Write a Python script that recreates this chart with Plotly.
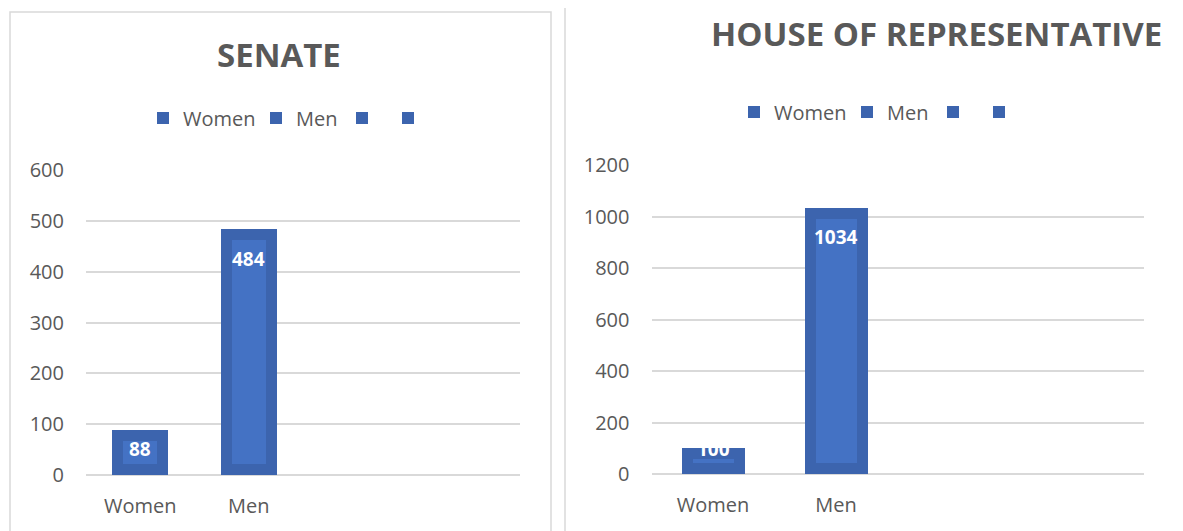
import plotly.graph_objects as go

# ---------------- data ----------------
categories = ["Women", "Men", "", ""]
legend_names = ["Women", "Men", " ", "  "]
senate_values = [88, 484, None, None]
house_values = [100, 1034, None, None]
senate_ticks = [0, 100, 200, 300, 400, 500, 600]
house_ticks = [0, 200, 400, 600, 800, 1000, 1200]

# ---------------- style ----------------
OFF = 8                      # page body margin of the viewer
W, H = 1183 - OFF, 531 - OFF  # figure size
OUTER = "#3C64AE"
INNER = "#4472C4"
GRID = "#D9D9D9"
TEXT = "#595959"
FONT = "Open Sans"
INSET_PX = 11
label_shift_senate = [-19, -30]
label_shift_house = [-1, -29]
legend_widths = [68, 41, 1, 1]


def fx(px):
    return (px - OFF) / W


def fy(py):
    return 1 - (py - OFF) / H


left_x = (fx(86), fx(520))
left_y = (fy(475), fy(170))
right_x = (fx(651.5), fx(1143.5))
right_y = (fy(474), fy(165))

fig = go.Figure()


def add_panel(values, ticks, xa, ya, legend, bar_w, inner_w, ydom):
    ymax = ticks[-1]
    px_per_unit = (ydom[1] - ydom[0]) * H / ymax
    inset = INSET_PX / px_per_unit
    xs = list(range(len(categories)))
    for i, (name, v) in enumerate(zip(legend_names, values)):
        fig.add_trace(go.Bar(
            x=[xs[i]], y=[v], name=name, width=bar_w,
            marker=dict(color=OUTER, line=dict(width=0)),
            xaxis=xa, yaxis=ya, legend=legend, legendwidth=legend_widths[i],
            hoverinfo="skip",
        ))
    for i, v in enumerate(values):
        if v is None:
            continue
        fig.add_trace(go.Bar(
            x=[xs[i]], y=[v - 2 * inset], base=[inset], width=inner_w,
            marker=dict(color=INNER, line=dict(width=0)),
            xaxis=xa, yaxis=ya, showlegend=False, hoverinfo="skip",
        ))


add_panel(senate_values, senate_ticks, "x", "y", "legend", 0.516, 0.313, left_y)
add_panel(house_values, house_ticks, "x2", "y2", "legend2", 0.52, 0.341, right_y)

annotations = []
for i, v in enumerate(senate_values):
    if v is None:
        continue
    annotations.append(dict(x=i, y=v, xref="x", yref="y", text=f"<b>{v}</b>",
                            showarrow=False, yshift=label_shift_senate[i], yanchor="middle",
                            font=dict(family=FONT, size=19, color="white")))
for i, v in enumerate(house_values):
    if v is None:
        continue
    annotations.append(dict(x=i, y=v, xref="x2", yref="y2", text=f"<b>{v}</b>",
                            showarrow=False, yshift=label_shift_house[i], yanchor="middle",
                            font=dict(family=FONT, size=19, color="white")))

annotations.append(dict(x=fx(279), y=fy(55), xref="paper", yref="paper",
                        text="<b>SENATE</b>", showarrow=False, xanchor="center", yanchor="middle",
                        font=dict(family=FONT, size=33, color=TEXT)))
annotations.append(dict(x=fx(936), y=fy(33), xref="paper", yref="paper",
                        text="<b>HOUSE OF REPRESENTATIVE</b>", showarrow=False,
                        xanchor="center", yanchor="middle",
                        font=dict(family=FONT, size=33, color=TEXT)))

shapes = [
    dict(type="rect", xref="paper", yref="paper", x0=fx(10), x1=fx(551),
         y0=-0.1, y1=fy(12), line=dict(color=GRID, width=1.5), layer="below"),
    dict(type="rect", xref="paper", yref="paper", x0=fx(565), x1=fx(1179),
         y0=-0.1, y1=fy(5), line=dict(color=GRID, width=1.5), layer="below"),
]

xaxis_common = dict(
    tickmode="array", tickvals=[0, 1, 2, 3], ticktext=categories, range=[-0.5, 3.5],
    showgrid=False, zeroline=False, showline=False, ticks="",
    tickfont=dict(family=FONT, size=20, color=TEXT), ticklabelstandoff=17,
    fixedrange=True, automargin=False,
)
yaxis_common = dict(
    tickmode="array", showgrid=True, gridcolor=GRID, gridwidth=1.5,
    zeroline=True, zerolinecolor=GRID, zerolinewidth=1.5, showline=False, ticks="",
    tickfont=dict(family=FONT, size=20, color=TEXT), ticklabelstandoff=21,
    fixedrange=True, automargin=False,
)

legend_common = dict(orientation="h", xanchor="left", yanchor="middle",
                     font=dict(family=FONT, size=20, color=TEXT), bgcolor="rgba(0,0,0,0)",
                     itemclick=False, itemdoubleclick=False)

fig.update_layout(
    width=W, height=H, margin=dict(l=0, r=0, t=0, b=0, pad=0, autoexpand=False),
    paper_bgcolor="white", plot_bgcolor="white",
    barmode="overlay", bargap=0,
    font=dict(family=FONT, color=TEXT),
    xaxis=dict(domain=list(left_x), anchor="y", **xaxis_common),
    yaxis=dict(domain=list(left_y), anchor="x", range=[0, senate_ticks[-1]],
               tickvals=senate_ticks, **yaxis_common),
    xaxis2=dict(domain=list(right_x), anchor="y2", **xaxis_common),
    yaxis2=dict(domain=list(right_y), anchor="x2", range=[0, house_ticks[-1]],
                tickvals=house_ticks, **yaxis_common),
    legend=dict(x=fx(163 - 20), y=fy(118), **legend_common),
    legend2=dict(x=fx(754 - 20), y=fy(112), **legend_common),
    annotations=annotations,
    shapes=shapes,
    showlegend=True,
)

fig.write_html("out.html")
